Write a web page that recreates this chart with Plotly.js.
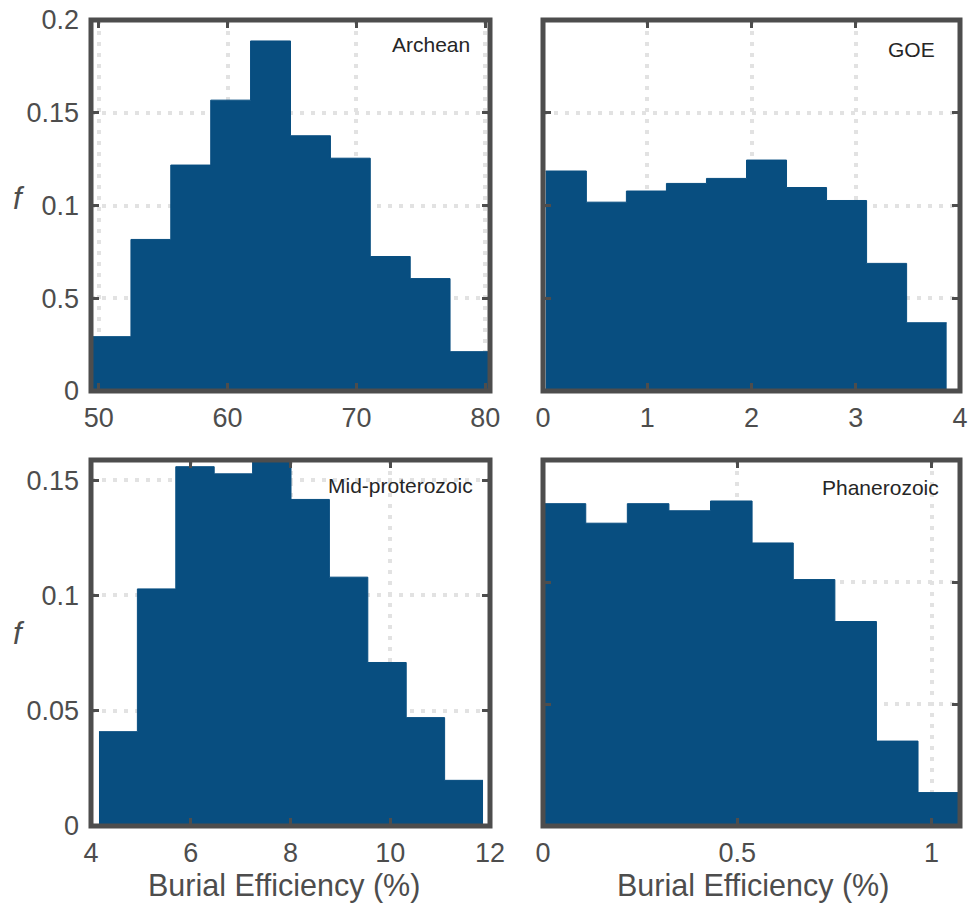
<!DOCTYPE html>
<html>
<head>
<meta charset="utf-8">
<script src="https://cdn.plot.ly/plotly-3.0.1.min.js"></script>
<style>
  html, body { margin: 0; padding: 0; background: #ffffff; }
  #chart { width: 971px; height: 908px; }
</style>
</head>
<body>
<div id="chart"></div>
<script>
// Burial efficiency histograms (relative frequency per bin) for four intervals.
var archeanEdges = [49.40, 52.50, 55.59, 58.69, 61.78, 64.88, 67.98, 71.07, 74.17, 77.26, 80.36];
var archeanF     = [0.0293, 0.0817, 0.1218, 0.1568, 0.1887, 0.1376, 0.1255, 0.0725, 0.0606, 0.0212];

var goeEdges = [0.025, 0.416, 0.800, 1.184, 1.568, 1.952, 2.336, 2.720, 3.104, 3.488, 3.872];
var goeF     = [0.1186, 0.1018, 0.1078, 0.1119, 0.1146, 0.1245, 0.1097, 0.1027, 0.0688, 0.0368];

var midEdges = [4.16, 4.93, 5.70, 6.47, 7.24, 8.01, 8.78, 9.55, 10.32, 11.09, 11.86];
var midF     = [0.0409, 0.1028, 0.1558, 0.1527, 0.1605, 0.1416, 0.1079, 0.0709, 0.0470, 0.0198];

var phanEdges = [0.003, 0.110, 0.217, 0.324, 0.431, 0.538, 0.644, 0.751, 0.858, 0.965, 1.072];
var phanF     = [0.1321, 0.1241, 0.1321, 0.1292, 0.1332, 0.1160, 0.1010, 0.0838, 0.0348, 0.0137];

var panelNames = ['Archean', 'GOE', 'Mid-proterozoic', 'Phanerozoic'];

var xTicksArchean = [50, 60, 70, 80];
var xTicksGoe     = [0, 1, 2, 3, 4];
var xTicksMid     = [4, 6, 8, 10, 12];
var xTicksPhan    = [0, 0.5, 1];

var yTicksTop       = [0, 0.05, 0.1, 0.15, 0.2];
var yTickTextTop    = ['0', '0.5', '0.1', '0.15', '0.2'];
var yTicksBottom    = [0, 0.05, 0.1, 0.15];
var yTickTextBottom = ['0', '0.05', '0.1', '0.15'];

var xLabel = 'Burial Efficiency (%)';
var yLabel = 'f';

var BAR = '#084e80';
var FRAME = '#4d4d4d';
var TXT = '#4d4d4d';
var GRID = '#e2e2e2';
var FONT = 'Liberation Sans, Arial, Helvetica, sans-serif';
var W = 971, H = 908;

// Histogram drawn as one filled step outline (bins share edges, no seams).
function histTrace(edges, f, xa, ya) {
  var xs = edges.slice(0, f.length).concat([edges[f.length]]);
  var ys = f.concat([f[f.length - 1]]);
  return {
    type: 'scatter', mode: 'lines', x: xs, y: ys,
    xaxis: xa, yaxis: ya,
    line: { shape: 'hv', color: BAR, width: 1 },
    fill: 'tozeroy', fillcolor: BAR,
    hoverinfo: 'x+y'
  };
}

var data = [
  histTrace(archeanEdges, archeanF, 'x', 'y'),
  histTrace(goeEdges, goeF, 'x2', 'y2'),
  histTrace(midEdges, midF, 'x3', 'y3'),
  histTrace(phanEdges, phanF, 'x4', 'y4')
];

// pixel boxes of the four axes: [left, right, top, bottom]
var boxes = [
  [91, 490, 20, 391],
  [543, 960, 20, 391],
  [91, 490, 460, 826],
  [543, 960, 460, 826]
];
function dx(b) { return [b[0] / W, b[1] / W]; }
function dy(b) { return [1 - b[3] / H, 1 - b[2] / H]; }

function xAxis(b, range, ticks, anchor) {
  return {
    domain: dx(b), range: range, anchor: anchor,
    tickvals: ticks, ticks: 'inside', ticklen: 8, tickwidth: 3, tickcolor: FRAME,
    mirror: 'ticks', showline: false, zeroline: false,
    showgrid: true, gridcolor: GRID, gridwidth: 4, griddash: '4px,7px',
    tickfont: { family: FONT, size: 27, color: TXT }, ticklabelstandoff: 8,
    fixedrange: true
  };
}
function yAxis(b, range, ticks, text, show, anchor) {
  return {
    domain: dy(b), range: range, anchor: anchor,
    tickvals: ticks, ticktext: text, showticklabels: show,
    ticks: 'inside', ticklen: 8, tickwidth: 3, tickcolor: FRAME,
    mirror: 'ticks', showline: false, zeroline: false,
    showgrid: true, gridcolor: GRID, gridwidth: 4, griddash: '4px,7px',
    tickfont: { family: FONT, size: 27, color: TXT }, ticklabelstandoff: 11,
    fixedrange: true
  };
}

var shapes = [];
['', '2', '3', '4'].forEach(function (s) {
  shapes.push({
    type: 'rect', xref: 'x' + s + ' domain', yref: 'y' + s + ' domain',
    x0: 0, x1: 1, y0: 0, y1: 1, layer: 'above',
    line: { color: FRAME, width: 5 }
  });
});

var annotations = [];
var namePos = [[472, 44], [937, 50], [475, 485], [941, 488]];
panelNames.forEach(function (n, i) {
  annotations.push({
    text: n, xref: 'paper', yref: 'paper',
    x: namePos[i][0] / W, y: 1 - namePos[i][1] / H,
    xanchor: 'right', yanchor: 'middle', showarrow: false,
    font: { family: FONT, size: 21, color: '#262626' }
  });
});
[[19, 198], [19, 633]].forEach(function (p) {
  annotations.push({
    text: '<i>' + yLabel + '</i>', xref: 'paper', yref: 'paper',
    x: p[0] / W, y: 1 - p[1] / H, xanchor: 'center', yanchor: 'middle',
    showarrow: false, font: { family: FONT, size: 31, color: TXT }
  });
});
[[284, 885], [753, 885]].forEach(function (p) {
  annotations.push({
    text: xLabel, xref: 'paper', yref: 'paper',
    x: p[0] / W, y: 1 - p[1] / H, xanchor: 'center', yanchor: 'middle',
    showarrow: false, font: { family: FONT, size: 30.5, color: TXT }
  });
});

var layout = {
  width: W, height: H,
  margin: { l: 0, r: 0, t: 0, b: 0 },
  paper_bgcolor: '#ffffff', plot_bgcolor: '#ffffff',
  showlegend: false,
  xaxis:  xAxis(boxes[0], [49.40, 80.36], xTicksArchean, 'y'),
  yaxis:  yAxis(boxes[0], [0, 0.2], yTicksTop, yTickTextTop, true, 'x'),
  xaxis2: xAxis(boxes[1], [0, 4], xTicksGoe, 'y2'),
  yaxis2: yAxis(boxes[1], [0, 0.2], yTicksTop, yTickTextTop, false, 'x2'),
  xaxis3: xAxis(boxes[2], [4, 12], xTicksMid, 'y3'),
  yaxis3: yAxis(boxes[2], [0, 0.1587], yTicksBottom, yTickTextBottom, true, 'x3'),
  xaxis4: xAxis(boxes[3], [0, 1.073], xTicksPhan, 'y4'),
  yaxis4: yAxis(boxes[3], [0, 0.15], yTicksBottom, yTickTextBottom, false, 'x4'),
  shapes: shapes,
  annotations: annotations
};

Plotly.newPlot('chart', data, layout, { displayModeBar: false, staticPlot: true });
</script>
</body>
</html>
